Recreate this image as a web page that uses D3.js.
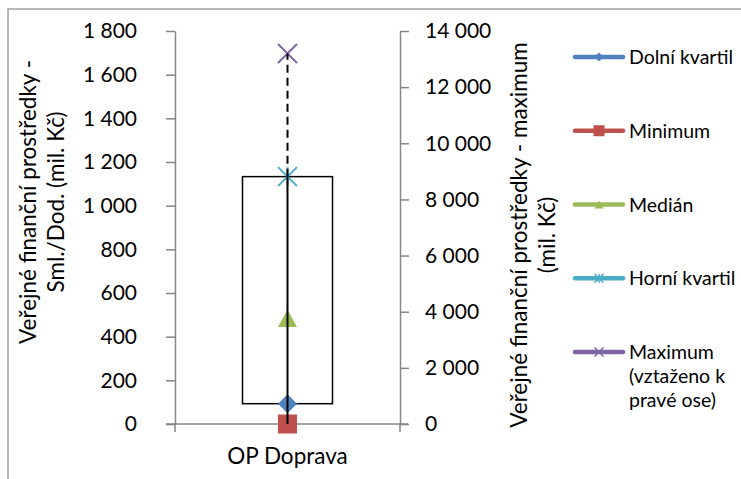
<!DOCTYPE html>
<html>
<head>
<meta charset="utf-8">
<script src="https://cdn.jsdelivr.net/npm/d3@7"></script>
<style>
  body { margin: 0; background: #fff; }
  svg { display: block; }
  text { font-family: Lato, "Open Sans", sans-serif; fill: #000; }
</style>
</head>
<body>
<svg id="chart" width="741" height="479"></svg>
<script>
// Box-plot summary for one operational programme (mil. Kč)
const categories = ["OP Doprava"];
const lowerQuartile = [93];
const minimum = [0];
const median = [484];
const upperQuartile = [1133];
const maximum = [13200];          // plotted against the right axis

const leftTicks = [0, 200, 400, 600, 800, 1000, 1200, 1400, 1600, 1800];
const rightTicks = [0, 2000, 4000, 6000, 8000, 10000, 12000, 14000];

const leftTitle = ["Veřejné finanční prostředky -", "Sml./Dod. (mil. Kč)"];
const rightTitle = ["Veřejné finanční prostředky - maximum", "(mil. Kč)"];

const legendNames = [
  ["Dolní kvartil"],
  ["Minimum"],
  ["Medián"],
  ["Horní kvartil"],
  ["Maximum", "(vztaženo k", "pravé ose)"]
];
const legendColors = ["#4F81BD", "#C0504D", "#9BBB59", "#4BACC6", "#8064A2"];
const legendMarkers = ["diamond", "square", "triangle", "star", "x"];

const svg = d3.select("#chart");
const axisColor = "#868686";

const cz = d3.formatLocale({ decimal: ",", thousands: "\u00a0", grouping: [3], currency: ["", " Kč"] });
const fmt = cz.format(",d");

// plot geometry
const plotLeft = 175, plotRight = 400, plotTop = 31, plotBottom = 424;

const x = d3.scaleBand().domain(categories).range([plotLeft, plotRight]);
const yL = d3.scaleLinear().domain([0, 1800]).range([plotBottom, plotTop]);
const yR = d3.scaleLinear().domain([0, 14000]).range([plotBottom, plotTop]);

// chart frame
svg.append("rect")
  .attr("x", 8).attr("y", 9).attr("width", 800).attr("height", 500)
  .attr("fill", "none").attr("stroke", "#a0a0a0").attr("stroke-width", 1.5);

// marker path builders
function markerPath(type, s) {
  const h = s / 2;
  switch (type) {
    case "diamond": return `M0,${-h}L${h},0L0,${h}L${-h},0Z`;
    case "square": return `M${-h},${-h}H${h}V${h}H${-h}Z`;
    case "triangle": return `M0,${-h * 0.9}L${h},${h * 0.9}L${-h},${h * 0.9}Z`;
    case "star": return `M${-h},${-h}L${h},${h}M${h},${-h}L${-h},${h}M0,${-h}V${h}`;
    case "x": return `M${-h},${-h}L${h},${h}M${h},${-h}L${-h},${h}`;
  }
}
function drawMarker(g, type, color, s, cx, cy, sw) {
  const filled = type === "diamond" || type === "square" || type === "triangle";
  g.append("path")
    .attr("transform", `translate(${cx},${cy})`)
    .attr("d", markerPath(type, s))
    .attr("fill", filled ? color : "none")
    .attr("stroke", filled ? "none" : color)
    .attr("stroke-width", sw || 2);
}

// left axis
const gL = svg.append("g").attr("transform", `translate(${plotLeft},0)`)
  .call(d3.axisLeft(yL).tickValues(leftTicks).tickSize(9).tickSizeOuter(0).tickPadding(29).tickFormat(fmt));
// right axis
const gR = svg.append("g").attr("transform", `translate(${plotRight},0)`)
  .call(d3.axisRight(yR).tickValues(rightTicks).tickSize(9).tickSizeOuter(0).tickPadding(16).tickFormat(fmt));

[gL, gR].forEach(g => {
  g.attr("font-family", null).attr("font-size", null);
  g.selectAll("path.domain").attr("stroke", axisColor).attr("stroke-width", 1.5);
  g.selectAll(".tick line").attr("stroke", axisColor).attr("stroke-width", 1.5);
  g.selectAll(".tick text").attr("fill", "#000").style("font-size", "21px");
});

// category axis
const gX = svg.append("g");
gX.append("line")
  .attr("x1", plotLeft - 9).attr("x2", plotRight + 8)
  .attr("y1", yL(0)).attr("y2", yL(0))
  .attr("stroke", axisColor).attr("stroke-width", 1.5);
x.range().forEach(px => {
  gX.append("line").attr("x1", px).attr("x2", px)
    .attr("y1", yL(0)).attr("y2", yL(0) + 8)
    .attr("stroke", axisColor).attr("stroke-width", 1.5);
});
gX.selectAll("text.cat").data(categories).join("text")
  .attr("class", "cat")
  .attr("x", d => x(d) + x.bandwidth() / 2)
  .attr("y", 464)
  .attr("text-anchor", "middle")
  .style("font-size", "22.5px")
  .text(d => d);

// axis titles
function rotatedTitle(lines, cx, cy, gap) {
  const t = svg.append("text")
    .attr("transform", `translate(${cx},${cy}) rotate(-90)`)
    .attr("text-anchor", "middle")
    .style("font-size", "22.5px");
  lines.forEach((l, i) => t.append("tspan").attr("x", 0).attr("y", i * gap).text(l));
}
rotatedTitle(leftTitle, 36, 202, 28);
rotatedTitle(rightTitle, 527, 235, 28);

// boxes, whiskers and markers
const plot = svg.append("g");
categories.forEach((c, i) => {
  const cx = x(c) + x.bandwidth() / 2;
  const bw = x.bandwidth() * 0.4;

  plot.append("rect")
    .attr("x", cx - bw / 2).attr("y", yL(upperQuartile[i]))
    .attr("width", bw).attr("height", yL(lowerQuartile[i]) - yL(upperQuartile[i]))
    .attr("fill", "none").attr("stroke", "#000").attr("stroke-width", 1.5);

  drawMarker(plot, "diamond", legendColors[0], 19, cx, yL(lowerQuartile[i]));
  drawMarker(plot, "square", legendColors[1], 19, cx, yL(minimum[i]));
  drawMarker(plot, "triangle", legendColors[2], 19, cx, yL(median[i]));
  drawMarker(plot, "star", legendColors[3], 19, cx, yL(upperQuartile[i]), 2);
  drawMarker(plot, "x", legendColors[4], 19, cx, yR(maximum[i]), 2);

  // whisker: minimum to upper quartile (solid), upper quartile to maximum (dashed)
  plot.append("line")
    .attr("x1", cx).attr("x2", cx)
    .attr("y1", yL(minimum[i])).attr("y2", yL(upperQuartile[i]))
    .attr("stroke", "#000").attr("stroke-width", 2);
  plot.append("line")
    .attr("x1", cx).attr("x2", cx)
    .attr("y1", yL(upperQuartile[i])).attr("y2", yR(maximum[i]))
    .attr("stroke", "#000").attr("stroke-width", 2)
    .attr("stroke-dasharray", "8,5");
});

// legend
const legend = svg.append("g");
const legendY = d3.scaleLinear().domain([0, legendNames.length - 1]).range([57, 352]);
legendNames.forEach((lines, i) => {
  const ly = legendY(i);
  legend.append("line")
    .attr("x1", 575).attr("x2", 623).attr("y1", ly).attr("y2", ly)
    .attr("stroke", legendColors[i]).attr("stroke-width", 4.5)
    .attr("stroke-linecap", "round");
  const ms = legendMarkers[i] === "square" ? 11 : 9;
  drawMarker(legend, legendMarkers[i], legendColors[i], ms, 599, ly, 1.5);
  const t = legend.append("text").style("font-size", "19.5px");
  lines.forEach((l, j) => t.append("tspan")
    .attr("x", 629).attr("y", ly + 7 + j * 24).text(l));
});
</script>
</body>
</html>
